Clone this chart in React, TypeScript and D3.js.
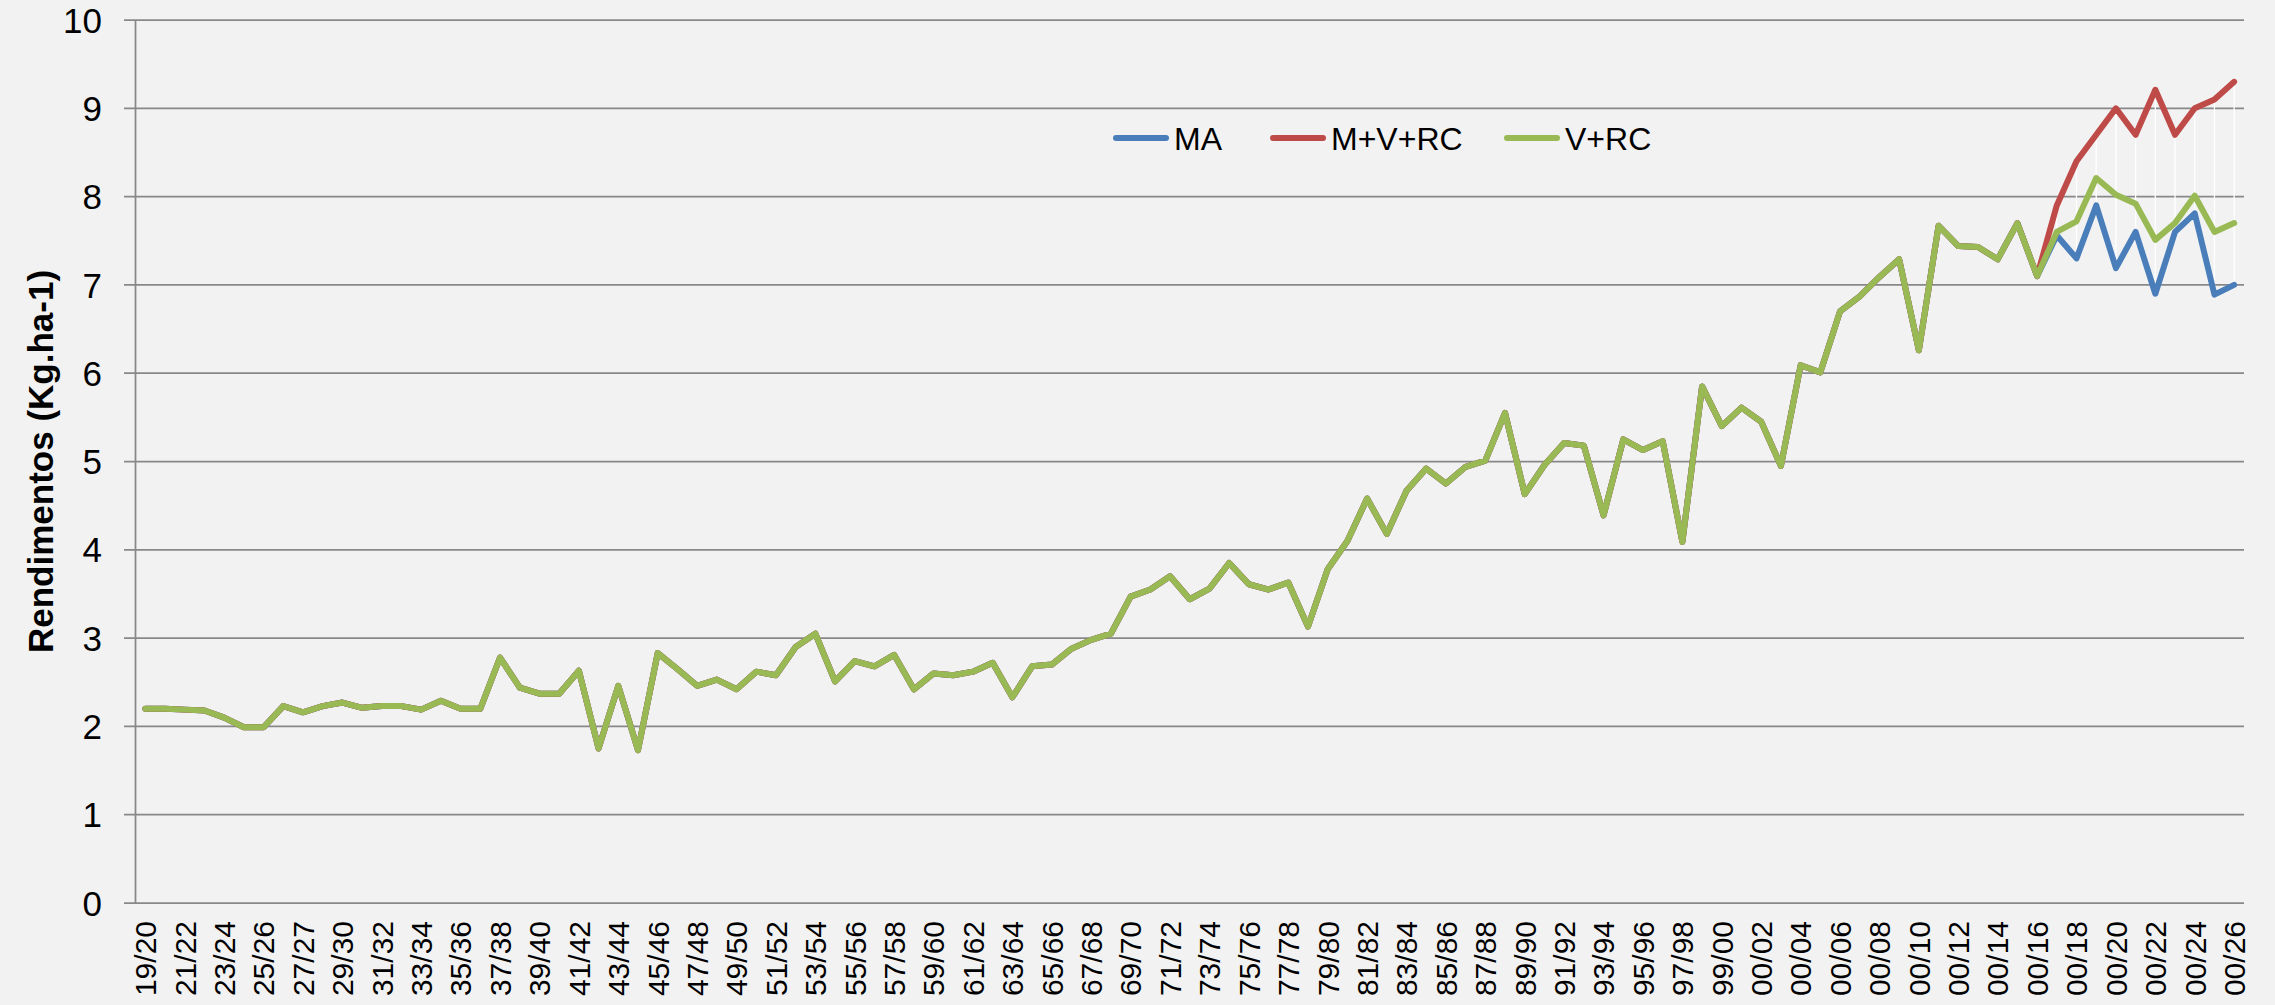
import React from 'react';
import * as d3 from 'd3';

// safras (one label every other category is shown on the axis)
const safras = [
  '19/20', '20/21', '21/22', '22/23', '23/24', '24/25', '25/26', '26/27', '27/27', '28/29',
  '29/30', '30/31', '31/32', '32/33', '33/34', '34/35', '35/36', '36/37', '37/38', '38/39',
  '39/40', '40/41', '41/42', '42/43', '43/44', '44/45', '45/46', '46/47', '47/48', '48/49',
  '49/50', '50/51', '51/52', '52/53', '53/54', '54/55', '55/56', '56/57', '57/58', '58/59',
  '59/60', '60/61', '61/62', '62/63', '63/64', '64/65', '65/66', '66/67', '67/68', '68/69',
  '69/70', '70/71', '71/72', '72/73', '73/74', '74/75', '75/76', '76/77', '77/78', '78/79',
  '79/80', '80/81', '81/82', '82/83', '83/84', '84/85', '85/86', '86/87', '87/88', '88/89',
  '89/90', '90/91', '91/92', '92/93', '93/94', '94/95', '95/96', '96/97', '97/98', '98/99',
  '99/00', '00/01', '00/02', '00/03', '00/04', '00/05', '00/06', '00/07', '00/08', '00/09',
  '00/10', '00/11', '00/12', '00/13', '00/14', '00/15', '00/16', '00/17', '00/18', '00/19',
  '00/20', '00/21', '00/22', '00/23', '00/24', '00/25', '00/26',
];

// observed yields, common to the three series (19/20 .. 00/16)
const historico = [
  2.20, 2.20, 2.19, 2.18, 2.10, 1.99, 1.99, 2.23, 2.16, 2.23,
  2.27, 2.21, 2.23, 2.23, 2.19, 2.29, 2.20, 2.20, 2.78, 2.44,
  2.37, 2.37, 2.63, 1.75, 2.46, 1.73, 2.83, 2.65, 2.46, 2.53,
  2.42, 2.62, 2.58, 2.90, 3.05, 2.51, 2.74, 2.68, 2.81, 2.42,
  2.60, 2.58, 2.62, 2.72, 2.33, 2.68, 2.70, 2.88, 2.98, 3.05,
  3.47, 3.55, 3.70, 3.44, 3.56, 3.85, 3.61, 3.55, 3.63, 3.13,
  3.78, 4.10, 4.58, 4.18, 4.67, 4.92, 4.75, 4.94, 5.01, 5.55,
  4.63, 4.96, 5.21, 5.18, 4.39, 5.25, 5.13, 5.23, 4.09, 5.85,
  5.40, 5.61, 5.45, 4.95, 6.09, 6.01, 6.70, 6.87, 7.09, 7.29,
  6.26, 7.67, 7.44, 7.43, 7.29, 7.70, 7.10,
];

// projections 00/17 .. 00/26
const projMA = [7.56, 7.30, 7.90, 7.19, 7.60, 6.90, 7.60, 7.81, 6.89, 7.00];
const projMVRC = [7.90, 8.40, 8.70, 9.00, 8.70, 9.21, 8.70, 9.00, 9.10, 9.30];
const projVRC = [7.60, 7.72, 8.21, 8.02, 7.92, 7.51, 7.70, 8.01, 7.60, 7.70];

const yTicks = [0, 1, 2, 3, 4, 5, 6, 7, 8, 9, 10];

const series = [
  { name: 'MA', color: '#4A7EBB', values: historico.concat(projMA) },
  { name: 'M+V+RC', color: '#BE4B48', values: historico.concat(projMVRC) },
  { name: 'V+RC', color: '#98B954', values: historico.concat(projVRC) },
];

const W = 2275;
const H = 1005;
const left = 135.5;
const right = 2244;
const top = 20;
const bottom = 903;
const font = '"Liberation Sans", Arial, sans-serif';
const gridColor = '#888888';

export default function App() {
  const x = d3.scalePoint<string>().domain(safras).range([left, right]).padding(0.5);
  const y = d3.scaleLinear().domain([0, 10]).range([bottom, top]);

  const line = d3
    .line<number>()
    .x((d, i) => x(safras[i]) as number)
    .y((d) => y(d));

  // high-low lines where the projections split
  const start = historico.length;
  const hiLo = safras.slice(start).map((s, k) => {
    const vals = series.map((ser) => ser.values[start + k]);
    return { s, hi: d3.max(vals) as number, lo: d3.min(vals) as number };
  });

  const legendX = [1113, 1270, 1504];

  return (
    <svg
      width={W}
      height={H}
      style={{ position: 'absolute', left: 0, top: 0, display: 'block' }}
      fontFamily={font}
    >
      <rect x={0} y={0} width={W} height={H} fill="#F2F2F2" />

      {yTicks.map((t) => (
        <g key={t}>
          <line x1={124} x2={right} y1={y(t)} y2={y(t)} stroke={gridColor} strokeWidth={1.75} />
          <text x={102} y={y(t)} dy="0.36em" textAnchor="end" fontSize={35} fill="#000">
            {t}
          </text>
        </g>
      ))}
      <line x1={left} x2={left} y1={top} y2={bottom} stroke={gridColor} strokeWidth={1.75} />

      {safras.map((s, i) =>
        i % 2 === 0 ? (
          <text
            key={s}
            transform={`translate(${x(s)},921) rotate(-90)`}
            dy="0.36em"
            textAnchor="end"
            fontSize={30}
            fill="#000"
          >
            {s}
          </text>
        ) : null
      )}

      <text
        transform={`translate(40,${(top + bottom) / 2}) rotate(-90)`}
        textAnchor="middle"
        dy="0.36em"
        fontSize={35}
        fontWeight="bold"
        fill="#000"
      >
        Rendimentos (Kg.ha-1)
      </text>

      {hiLo.map((d) => (
        <line
          key={d.s}
          x1={x(d.s)}
          x2={x(d.s)}
          y1={y(d.hi)}
          y2={y(d.lo)}
          stroke="#FFFFFF"
          strokeWidth={1.3}
        />
      ))}

      {series.map((ser) => (
        <path
          key={ser.name}
          d={line(ser.values) || ''}
          fill="none"
          stroke={ser.color}
          strokeWidth={6}
          strokeLinejoin="round"
          strokeLinecap="round"
        />
      ))}

      {series.map((ser, i) => (
        <g key={ser.name} transform={`translate(${legendX[i]},138)`}>
          <line x1={3} x2={53} y1={0} y2={0} stroke={ser.color} strokeWidth={6} strokeLinecap="round" />
          <text x={61} y={0} dy="0.36em" fontSize={32} fill="#000">
            {ser.name}
          </text>
        </g>
      ))}
    </svg>
  );
}
